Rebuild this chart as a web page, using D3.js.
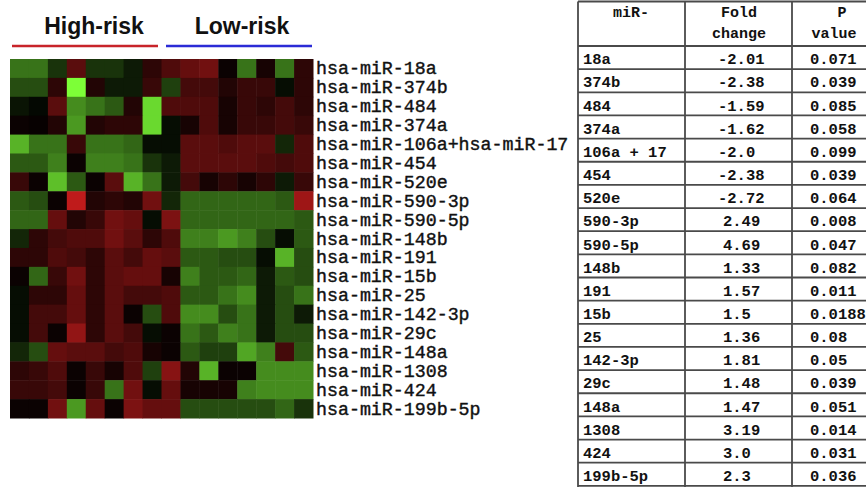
<!DOCTYPE html>
<html>
<head>
<meta charset="utf-8">
<script src="https://cdn.jsdelivr.net/npm/d3@7"></script>
<style>
  html, body { margin: 0; padding: 0; background: #fff; }
  svg { display: block; }
</style>
</head>
<body>
<svg id="chart" width="866" height="487"></svg>
<script>
// miRNA probes shown as heatmap rows
const mirnas = [
  "hsa-miR-18a", "hsa-miR-374b", "hsa-miR-484", "hsa-miR-374a",
  "hsa-miR-106a+hsa-miR-17", "hsa-miR-454", "hsa-miR-520e", "hsa-miR-590-3p",
  "hsa-miR-590-5p", "hsa-miR-148b", "hsa-miR-191", "hsa-miR-15b",
  "hsa-miR-25", "hsa-miR-142-3p", "hsa-miR-29c", "hsa-miR-148a",
  "hsa-miR-1308", "hsa-miR-424", "hsa-miR-199b-5p"
];

// sample groups (first 9 samples high-risk, last 7 low-risk)
const groupNames = ["High-risk", "Low-risk"];
const groupSizes = [9, 7];

// relative expression per sample (negative = down / green, positive = up / red)
const r18a    = [-0.45,-0.45,-0.2, 0.4,-0.2,-0.2,-0.1, 0.2,  0.35, 0.45, 0.5, 0.05,-0.45, 0.1,-0.45, 0.2];
const r374b   = [-0.3,-0.3, 0.2,-1.0, 0.15,-0.1,-0.1, 0.25, -0.25, 0.3, 0.3, 0.15, 0.25, 0.25,-0.05, 0.2];
const r484    = [-0.08,-0.03, 0.4,-0.55,-0.45,-0.35, 0.15,-0.85, 0.35, 0.35, 0.35, 0.1, 0.25, 0.2, 0.3, 0.2];
const r374a   = [0.05, 0.03, 0.15,-0.6, 0.15, 0.2, 0.2,-0.85, -0.05, 0.1, 0.35, 0.1, 0.25, 0.25, 0.3, 0.25];
const r106a   = [-0.7,-0.45,-0.45, 0.25,-0.45,-0.45,-0.4,-0.05, -0.05, 0.4, 0.4, 0.35, 0.4, 0.4,-0.15, 0.35];
const r454    = [-0.35,-0.35,-0.5, 0.05,-0.5,-0.5,-0.45,-0.2, -0.1, 0.4, 0.4, 0.4, 0.4, 0.35, 0.3, 0.35];
const r520e   = [0.25, 0.05,-0.75,-0.35, 0.05, 0.4,-0.7,-0.45, -0.1, 0.3, 0.1, 0.2, 0.1, 0.2,-0.1, 0.25];
const r590_3p = [-0.35,-0.3, 0.05, 0.85, 0.15, 0.2, 0.15, 0.5, -0.15,-0.4,-0.4,-0.4,-0.4,-0.4,-0.35, 0.7];
const r590_5p = [-0.4,-0.4, 0.45, 0.15, 0.25, 0.5, 0.45,-0.05, 0.55,-0.4,-0.4,-0.4,-0.4,-0.4,-0.4,-0.35];
const r148b   = [-0.15, 0.2, 0.3, 0.35, 0.35, 0.5, 0.4, 0.2, 0.35,-0.5,-0.5,-0.6,-0.5,-0.3,-0.05,-0.35];
const r191    = [0.2, 0.2, 0.35, 0.3, 0.2, 0.4, 0.3, 0.45, 0.4,-0.35,-0.35,-0.3,-0.3,-0.05,-0.7,-0.3];
const r15b    = [0.05,-0.4, 0.25, 0.5, 0.2, 0.4, 0.45, 0.45, 0.1,-0.5,-0.35,-0.35,-0.4,-0.1,-0.35,-0.3];
const r25     = [-0.05, 0.2, 0.2, 0.45, 0.2, 0.4, 0.3, 0.3, 0.35,-0.35,-0.35,-0.45,-0.55,-0.1,-0.3,-0.45];
const r142_3p = [-0.05, 0.3, 0.3, 0.45, 0.2, 0.4, 0.05,-0.3, 0.35,-0.55,-0.55,-0.3,-0.45,-0.1,-0.3,-0.1];
const r29c    = [-0.05, 0.3, 0.05, 0.65, 0.2, 0.4, 0.3,-0.05, 0.05,-0.45,-0.35,-0.5,-0.45,-0.1,-0.3,-0.3];
const r148a   = [-0.15,-0.3, 0.45, 0.4, 0.4, 0.3, 0.35, 0.1, 0.05,-0.35,-0.25,-0.25,-0.65,-0.5, 0.3,-0.35];
const r1308   = [0.2, 0.25, 0.35, 0.05, 0.25, 0.1, 0.35,-0.25, 0.6, 0.15,-0.7, 0.05, 0.05,-0.55,-0.55,-0.55];
const r424    = [0.25, 0.25, 0.3, 0.05, 0.25,-0.45, 0.5,-0.05, 0.45, 0.1, 0.1, 0.1,-0.5,-0.55,-0.55,-0.55];
const r199b   = [0.05, 0.05, 0.5,-0.6, 0.45, 0.05, 0.55, 0.45, 0.45,-0.3,-0.3,-0.3,-0.3,-0.3,-0.4,-0.2];

const expression = [r18a, r374b, r484, r374a, r106a, r454, r520e, r590_3p, r590_5p,
  r148b, r191, r15b, r25, r142_3p, r29c, r148a, r1308, r424, r199b];

// summary table
const tableHeader = [["miR-", ""], ["Fold", "change"], ["P", "value"]];
const tableIds = ["18a", "374b", "484", "374a", "106a + 17", "454", "520e", "590-3p",
  "590-5p", "148b", "191", "15b", "25", "142-3p", "29c", "148a", "1308", "424", "199b-5p"];
const foldChange = ["-2.01", "-2.38", "-1.59", "-1.62", "-2.0", "-2.38", "-2.72", "2.49",
  "4.69", "1.33", "1.57", "1.5", "1.36", "1.81", "1.48", "1.47", "3.19", "3.0", "2.3"];
const pValue = ["0.071", "0.039", "0.085", "0.058", "0.099", "0.039", "0.064", "0.008",
  "0.047", "0.082", "0.011", "0.0188", "0.08", "0.05", "0.039", "0.051", "0.014", "0.031", "0.036"];

const svg = d3.select("#chart");
const nCols = d3.sum(groupSizes);

// ---------- heatmap ----------
const x = d3.scaleBand().domain(d3.range(nCols)).range([10, 313]);
const y = d3.scaleBand().domain(mirnas).range([59, 418]);
const color = d3.scaleLinear()
  .domain([-1, 0, 1])
  .range(["rgb(125,255,55)", "rgb(0,0,0)", "rgb(225,32,32)"])
  .clamp(true);

const cells = [];
expression.forEach((row, i) => row.forEach((v, j) => cells.push({ mir: mirnas[i], col: j, v })));

svg.append("g").selectAll("rect").data(cells).join("rect")
  .attr("x", d => x(d.col))
  .attr("y", d => y(d.mir))
  .attr("width", x.bandwidth() + 0.5)
  .attr("height", y.bandwidth() + 0.5)
  .attr("fill", d => color(d.v));

// row labels
svg.append("g").selectAll("text").data(mirnas).join("text")
  .attr("x", 316)
  .attr("y", d => y(d) + y.bandwidth() / 2 + 6)
  .attr("font-family", "'Liberation Mono', 'Courier New', monospace")
  .attr("font-size", 18.3)
  .attr("fill", "#111")
  .attr("stroke", "#111")
  .attr("stroke-width", 0.4)
  .text(d => d);

// group headers with coloured underlines
const groupLayout = [
  { name: groupNames[0], cx: 94, x1: 12, x2: 158, stroke: "#c8242a" },
  { name: groupNames[1], cx: 242, x1: 166, x2: 312, stroke: "#2b2bd6" }
];
const gh = svg.append("g");
gh.selectAll("text").data(groupLayout).join("text")
  .attr("x", d => d.cx)
  .attr("y", 34)
  .attr("text-anchor", "middle")
  .attr("font-family", "'Liberation Sans', Arial, sans-serif")
  .attr("font-weight", "bold")
  .attr("font-size", 23)
  .attr("fill", "#111")
  .text(d => d.name);
gh.selectAll("line").data(groupLayout).join("line")
  .attr("x1", d => d.x1).attr("x2", d => d.x2)
  .attr("y1", 46).attr("y2", 46)
  .attr("stroke", d => d.stroke)
  .attr("stroke-width", 2.5);

// ---------- table ----------
const tableTop = 1.5, headerBottom = 46, rowH = 23.15;
const colEdges = [578, 685, 792, 872];
const ty = d3.scaleBand().domain(tableIds).range([headerBottom, headerBottom + rowH * tableIds.length]);
const tableFont = "'Liberation Mono', 'Courier New', monospace";
const tg = svg.append("g");

// grid lines
const hLines = [tableTop, ...tableIds.map(id => ty(id)), headerBottom + rowH * tableIds.length];
tg.selectAll("line.h").data(hLines).join("line")
  .attr("class", "h")
  .attr("x1", colEdges[0]).attr("x2", colEdges[3])
  .attr("y1", d => d).attr("y2", d => d)
  .attr("stroke", "#4a4a4a").attr("stroke-width", 1.8);
tg.selectAll("line.v").data(colEdges).join("line")
  .attr("class", "v")
  .attr("x1", d => d).attr("x2", d => d)
  .attr("y1", tableTop).attr("y2", 500)
  .attr("stroke", "#4a4a4a").attr("stroke-width", 1.8);

// header text
const headerX = [631, 739, 838];
tableHeader.forEach((lines, c) => {
  lines.forEach((t, k) => {
    tg.append("text")
      .attr("x", c === 2 && k === 0 ? 842 : (c === 2 ? 834 : headerX[c]))
      .attr("y", 17 + k * 21)
      .attr("text-anchor", "middle")
      .attr("font-family", tableFont)
      .attr("font-weight", "bold")
      .attr("font-size", 15)
      .attr("fill", "#111")
      .text(t);
  });
});

// body text
const rows = tableIds.map((id, i) => ({ id, fc: foldChange[i], p: pValue[i] }));
const cellText = (sel) => sel
  .attr("font-family", tableFont)
  .attr("font-weight", "bold")
  .attr("font-size", 15.5)
  .attr("fill", "#111");

tg.append("g").selectAll("text").data(rows).join("text")
  .attr("x", 583).attr("y", d => ty(d.id) + 18.3)
  .call(cellText).text(d => d.id);
tg.append("g").selectAll("text").data(rows).join("text")
  .attr("x", d => (+d.fc < 0 ? 718 : 723)).attr("y", d => ty(d.id) + 18.3)
  .call(cellText).text(d => d.fc);
tg.append("g").selectAll("text").data(rows).join("text")
  .attr("x", 810).attr("y", d => ty(d.id) + 18.3)
  .call(cellText).text(d => d.p);
</script>
</body>
</html>
